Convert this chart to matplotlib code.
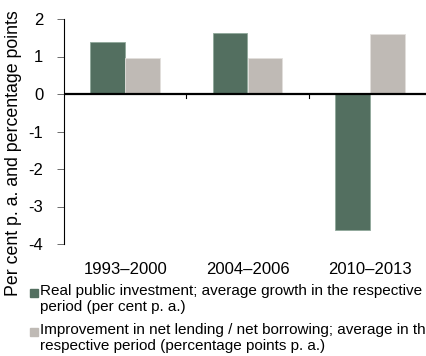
import matplotlib
matplotlib.use("Agg")
import matplotlib.pyplot as plt
from matplotlib.patches import Rectangle
import numpy as np

plt.rcParams["font.family"] = ["Liberation Sans", "DejaVu Sans"]

periods = ["1993–2000", "2004–2006", "2010–2013"]
investment = [1.39, 1.63, -3.63]
net_lending = [0.95, 0.95, 1.60]
yticks = [-4, -3, -2, -1, 0, 1, 2]

legend_labels = [
    "Real public investment; average growth in the respective\nperiod (per cent p. a.)",
    "Improvement in net lending / net borrowing; average in the\nrespective period (percentage points p. a.)",
]

GREEN = "#536f60"
GREY = "#bfbab5"

W, H = 426, 356
fig = plt.figure(figsize=(W / 100, H / 100), dpi=100)
ax = fig.add_axes([64 / W, 1 - 244 / H, (431 - 64) / W, (244 - 19) / H])

x = np.arange(len(periods))
bw = 0.285
ax.bar(x - bw / 2, investment, bw, color=GREEN, edgecolor="#8fa89a", linewidth=0.6)
ax.bar(x + bw / 2, net_lending, bw, color=GREY, edgecolor="#e2dfdc", linewidth=0.6)

ax.set_xlim(-0.5, len(periods) - 0.5)
ax.set_ylim(-4, 2)
ax.set_yticks(yticks)
ax.set_yticklabels([str(t) for t in yticks], fontsize=12)
ax.tick_params(axis="y", length=5, width=0.6, color="#555555", pad=10)

ax.set_xticks(x)
ax.set_xticklabels(periods, fontsize=12)
ax.tick_params(axis="x", length=0, pad=13)

for s in ["top", "right", "bottom"]:
    ax.spines[s].set_visible(False)
ax.spines["left"].set_linewidth(0.8)

ax.axhline(0, color="black", linewidth=1.6, zorder=3)
for b in x[:-1] + 0.5:
    ax.plot([b, b], [0, -0.1], color="black", linewidth=0.8, zorder=3)

fig.text(14 / W, 1 - 153 / H, "Per cent p. a. and percentage points",
         rotation=90, ha="center", va="center", fontsize=12.8)

# legend drawn by hand below the plot
for i, (label, color) in enumerate(zip(legend_labels, [GREEN, GREY])):
    top = 285 + i * 39
    fig.patches.append(Rectangle((30 / W, 1 - (top + 12) / H), 8 / W, 8 / H,
                                 transform=fig.transFigure, color=color))
    fig.text(40 / W, 1 - (top - 1) / H, label, ha="left", va="top",
             fontsize=11, linespacing=1.15)

fig.savefig("out.png", dpi=100)
